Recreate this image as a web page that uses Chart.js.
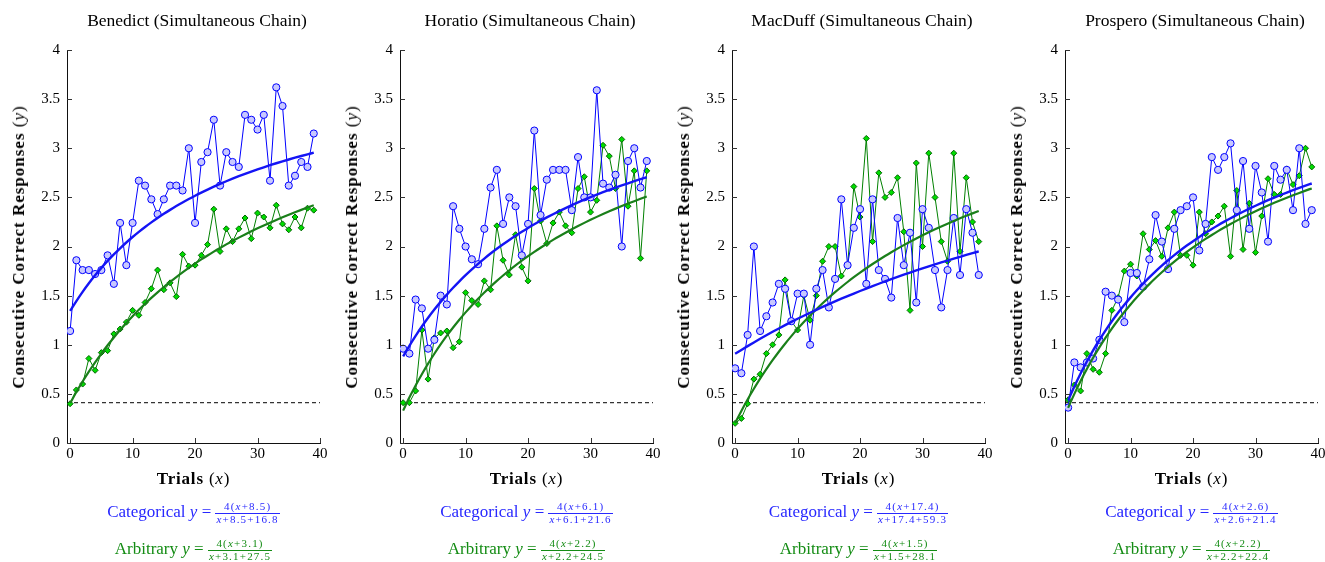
<!DOCTYPE html>
<html>
<head>
<meta charset="utf-8">
<script src="https://cdn.jsdelivr.net/npm/chart.js@4.4.0/dist/chart.umd.min.js"></script>
<style>
    body { margin: 0; background: #fff; width: 1325px; height: 562px; overflow: hidden; font-family: "Liberation Serif", serif; color: #000; }
    .panel { position: absolute; top: 0; width: 330px; height: 562px; }
    .panel canvas { position: absolute; left: 0; top: 0; }
    .title { position: absolute; top: 10px; left: 57px; width: 280px; text-align: center; font-size: 17.5px; white-space: nowrap; }
    .ytitle { position: absolute; left: 19px; top: 247px; transform: translate(-50%, -50%) rotate(-90deg); white-space: nowrap; font-size: 17px; letter-spacing: 1px; }
    .xtitle { position: absolute; top: 469px; left: 67px; width: 253px; text-align: center; font-size: 17px; letter-spacing: 0.8px; }
    .eq { position: absolute; left: 57px; width: 273px; text-align: center; font-size: 17px; white-space: nowrap; }
    .frac { display: inline-block; vertical-align: middle; text-align: center; font-size: 11px; line-height: 1; letter-spacing: 1.2px; }
    .frac span { display: block; padding: 0 1px; }
    .frac .num { border-bottom: 1px solid currentColor; padding-bottom: 1px; }
</style>
</head>
<body>
<div id="charts"></div>
<script>
// subjects, one panel each
const subjects = ['Benedict', 'Horatio', 'MacDuff', 'Prospero'];
const trials = [0, 1, 2, 3, 4, 5, 6, 7, 8, 9, 10, 11, 12, 13, 14, 15, 16, 17, 18, 19,
                20, 21, 22, 23, 24, 25, 26, 27, 28, 29, 30, 31, 32, 33, 34, 35, 36, 37, 38, 39];
const xTicks = [0, 10, 20, 30, 40];
const yTicks = [0, 0.5, 1, 1.5, 2, 2.5, 3, 3.5, 4];
const chanceLevel = 0.41;

// consecutive correct responses per trial
const benedictCat = [1.14, 1.86, 1.76, 1.76, 1.72, 1.76, 1.91, 1.62, 2.24, 1.81, 2.24, 2.67, 2.62, 2.48, 2.33, 2.48, 2.62, 2.62, 2.57, 3.00,
                     2.24, 2.86, 2.96, 3.29, 2.62, 2.96, 2.86, 2.81, 3.34, 3.29, 3.19, 3.34, 2.67, 3.62, 3.43, 2.62, 2.72, 2.86, 2.81, 3.15];
const benedictArb = [0.40, 0.54, 0.60, 0.86, 0.74, 0.92, 0.94, 1.11, 1.16, 1.23, 1.35, 1.30, 1.43, 1.57, 1.76, 1.56, 1.63, 1.49, 1.92, 1.80,
                     1.81, 1.91, 2.02, 2.38, 1.95, 2.18, 2.05, 2.18, 2.29, 2.08, 2.34, 2.30, 2.19, 2.42, 2.23, 2.17, 2.30, 2.19, 2.39, 2.37];
const horatioCat = [0.96, 0.91, 1.46, 1.37, 0.96, 1.05, 1.50, 1.41, 2.41, 2.18, 2.00, 1.87, 1.82, 2.18, 2.60, 2.78, 2.23, 2.50, 2.41, 1.91,
                    2.23, 3.18, 2.32, 2.68, 2.78, 2.78, 2.78, 2.37, 2.91, 2.50, 2.50, 3.59, 2.64, 2.60, 2.73, 2.00, 2.87, 3.00, 2.60, 2.87];
const horatioArb = [0.41, 0.41, 0.53, 1.15, 0.65, 1.07, 1.12, 1.14, 0.97, 1.03, 1.53, 1.45, 1.41, 1.65, 1.56, 2.21, 1.86, 1.71, 2.12, 1.79,
                    1.65, 2.59, 2.26, 2.03, 2.24, 2.35, 2.21, 2.14, 2.59, 2.71, 2.35, 2.47, 3.03, 2.92, 2.59, 3.09, 2.41, 2.77, 1.88, 2.77];
const macduffCat = [0.76, 0.71, 1.10, 2.00, 1.14, 1.29, 1.43, 1.62, 1.57, 1.24, 1.52, 1.52, 1.00, 1.57, 1.76, 1.38, 1.67, 2.48, 1.81, 2.19,
                    2.38, 1.62, 2.48, 1.76, 1.67, 1.48, 2.29, 1.81, 2.14, 1.43, 2.38, 2.19, 1.76, 1.38, 1.76, 2.29, 1.71, 2.38, 2.14, 1.71];
const macduffArb = [0.20, 0.25, 0.40, 0.65, 0.70, 0.91, 1.00, 1.10, 1.66, 1.24, 1.15, 1.50, 1.25, 1.50, 1.85, 2.00, 2.00, 1.70, 1.80, 2.61,
                    2.30, 3.10, 2.05, 2.75, 2.50, 2.55, 2.70, 2.15, 1.35, 2.85, 2.00, 2.95, 2.50, 2.05, 1.85, 2.95, 1.95, 2.70, 2.25, 2.05];
const prosperoCat = [0.36, 0.82, 0.77, 0.82, 0.86, 1.05, 1.54, 1.50, 1.46, 1.23, 1.73, 1.73, 1.59, 1.87, 2.32, 2.05, 1.77, 2.18, 2.37, 2.41,
                     2.50, 1.96, 2.23, 2.91, 2.78, 2.91, 3.05, 2.37, 2.87, 2.18, 2.82, 2.55, 2.05, 2.82, 2.68, 2.78, 2.37, 3.00, 2.23, 2.37];
const prosperoArb = [0.44, 0.59, 0.53, 0.91, 0.75, 0.72, 0.91, 1.35, 1.48, 1.75, 1.82, 1.70, 2.13, 1.97, 2.06, 1.90, 2.19, 2.35, 1.91, 1.91,
                     1.81, 2.35, 2.13, 2.25, 2.31, 2.41, 1.90, 2.57, 1.97, 2.44, 1.94, 2.31, 2.69, 2.53, 2.53, 2.79, 2.63, 2.72, 3.00, 2.81];

const categorical = [benedictCat, horatioCat, macduffCat, prosperoCat];
const arbitrary = [benedictArb, horatioArb, macduffArb, prosperoArb];

// fitted curves y = 4(x+a)/(x+a+b)
const catShift = [8.5, 6.1, 17.4, 2.6];
const catHalf = [16.8, 21.6, 59.3, 21.4];
const arbShift = [3.1, 2.2, 1.5, 2.2];
const arbHalf = [27.5, 24.5, 28.1, 22.4];

const panelLeft = [0, 333, 665, 998];
const blue = '#0000ff';
const green = '#008000';
const serif = '"Liberation Serif", serif';

function fitCurve(a, b) {
    return trials.map(function (t) {
        return { x: t, y: 4 * (t + a) / (t + a + b) };
    });
}

function points(values) {
    return trials.map(function (t, i) {
        return { x: t, y: values[i] };
    });
}

function fraction(a, b) {
    return `<span class="frac"><span class="num">4(<i>x</i>+${a})</span><span><i>x</i>+${a}+${b}</span></span>`;
}

// small tick marks pointing into the plot, like the original
const innerTicks = {
    id: 'innerTicks',
    afterDraw(chart) {
        const ctx = chart.ctx;
        const area = chart.chartArea;
        const xs = chart.scales.x;
        const ys = chart.scales.y;
        ctx.save();
        ctx.strokeStyle = '#333';
        ctx.lineWidth = 1;
        ctx.beginPath();
        xTicks.forEach(function (v) {
            const p = Math.round(xs.getPixelForValue(v)) + 0.5;
            ctx.moveTo(p, area.bottom);
            ctx.lineTo(p, area.bottom - 5);
        });
        yTicks.forEach(function (v) {
            const p = Math.round(ys.getPixelForValue(v)) + 0.5;
            ctx.moveTo(area.left, p);
            ctx.lineTo(area.left + 5, p);
        });
        ctx.stroke();
        ctx.restore();
    }
};

function drawPanel(i) {
    const panel = document.createElement('div');
    panel.className = 'panel';
    panel.style.left = panelLeft[i] + 'px';
    panel.innerHTML = `
        <canvas id="chart${i}" width="330" height="495"></canvas>
        <div class="title">${subjects[i]} (Simultaneous Chain)</div>
        <div class="ytitle"><b>Consecutive Correct Responses</b> (<i>y</i>)</div>
        <div class="xtitle"><b>Trials</b> (<i>x</i>)</div>
        <div class="eq" style="top:501px;color:rgb(40,40,255)">Categorical <i>y</i> = ${fraction(catShift[i], catHalf[i])}</div>
        <div class="eq" style="top:538px;color:rgb(20,140,20)">Arbitrary <i>y</i> = ${fraction(arbShift[i], arbHalf[i])}</div>
    `;
    document.getElementById('charts').appendChild(panel);

    new Chart(document.getElementById('chart' + i), {
        type: 'line',
        data: {
            datasets: [{
                label: 'Categorical fit',
                data: fitCurve(catShift[i], catHalf[i]),
                borderColor: '#1414f5',
                borderWidth: 2.4,
                pointRadius: 0,
                cubicInterpolationMode: 'monotone'
            }, {
                label: 'Arbitrary fit',
                data: fitCurve(arbShift[i], arbHalf[i]),
                borderColor: '#1a7f1a',
                borderWidth: 2.2,
                pointRadius: 0,
                cubicInterpolationMode: 'monotone'
            }, {
                label: 'Categorical',
                data: points(categorical[i]),
                borderColor: blue,
                borderWidth: 1,
                pointStyle: 'circle',
                pointRadius: 3.6,
                pointBackgroundColor: '#c8c8ff',
                pointBorderColor: blue,
                pointBorderWidth: 1
            }, {
                label: 'Arbitrary',
                data: points(arbitrary[i]),
                borderColor: green,
                borderWidth: 1,
                pointStyle: 'rectRot',
                pointRadius: 3,
                pointBackgroundColor: '#00dd00',
                pointBorderColor: '#006400',
                pointBorderWidth: 1
            }, {
                label: 'Chance',
                data: [{ x: -0.5, y: chanceLevel }, { x: 40, y: chanceLevel }],
                borderColor: '#000',
                borderWidth: 1,
                borderDash: [4, 3],
                pointRadius: 0
            }]
        },
        options: {
            responsive: false,
            animation: false,
            layout: { padding: { top: 50, right: 10, left: 0, bottom: 0 } },
            plugins: {
                legend: { display: false },
                tooltip: { enabled: false }
            },
            scales: {
                x: {
                    type: 'linear',
                    min: -0.5,
                    max: 40,
                    afterBuildTicks: function (scale) {
                        scale.ticks = xTicks.map(function (v) { return { value: v }; });
                    },
                    afterFit: function (scale) { scale.height = 52; },
                    grid: { display: false, drawTicks: false },
                    border: { display: true, color: '#111', width: 1 },
                    ticks: { color: '#000', padding: 2, maxRotation: 0, font: { family: serif, size: 15 } }
                },
                y: {
                    min: 0,
                    max: 4,
                    afterBuildTicks: function (scale) {
                        scale.ticks = yTicks.map(function (v) { return { value: v }; });
                    },
                    afterFit: function (scale) { scale.width = 67; },
                    grid: { display: false, drawTicks: false },
                    border: { display: true, color: '#111', width: 1 },
                    ticks: {
                        color: '#000',
                        padding: 7,
                        font: { family: serif, size: 15 },
                        callback: function (value) { return String(value); }
                    }
                }
            }
        },
        plugins: [innerTicks]
    });
}

document.addEventListener('DOMContentLoaded', function () {
    for (let i = 0; i < subjects.length; i++) {
        drawPanel(i);
    }
});
</script>
</body>
</html>
